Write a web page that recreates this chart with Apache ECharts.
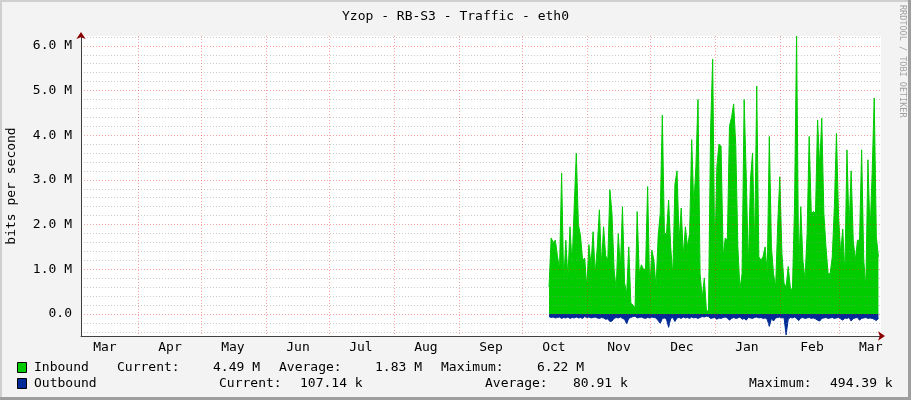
<!DOCTYPE html>
<html><head><meta charset="utf-8">
<script src="https://cdn.jsdelivr.net/npm/echarts@6/dist/echarts.min.js"></script>
<style>html,body{margin:0;padding:0;background:#F3F3F3}#c{width:911px;height:400px}</style>
</head><body><div id="c"></div>
<script>
// ---- texts ----
const chartTitle = 'Yzop - RB-S3 - Traffic - eth0';
const yAxisTitle = 'bits per second';
const creditText = 'RRDTOOL / TOBI OETIKER';
const monthNames = ['Jan','Feb','Mar','Apr','May','Jun','Jul','Aug','Sep','Oct','Nov','Dec'];

// ---- time axis (UTC) ----
const axisStart = '2009-03-04T14:00:00Z';
const axisEnd = '2010-03-20T21:30:00Z';
const dataStart = '2009-10-13T16:00:00Z';   // first daily sample
const monthStarts = ['2009-04-01','2009-05-01','2009-06-01','2009-07-01','2009-08-01','2009-09-01',
  '2009-10-01','2009-11-01','2009-12-01','2010-01-01','2010-02-01','2010-03-01'];
const monthLabelDates = ['2009-03-16','2009-04-16','2009-05-16','2009-06-16','2009-07-16','2009-08-16',
  '2009-09-16','2009-10-16','2009-11-16','2009-12-16','2010-01-16','2010-02-16','2010-03-16'];

// ---- value axis (Mbit/s) ----
const yMin = -0.49439;
const yMax = 6.22;
const yMajorTicks = [0,1,2,3,4,5,6];
const yMinorTicks = [-0.4,-0.2,0.2,0.4,0.6,0.8,1.2,1.4,1.6,1.8,2.2,2.4,2.6,2.8,3.2,3.4,3.6,3.8,
  4.2,4.4,4.6,4.8,5.2,5.4,5.6,5.8,6.2];

// ---- daily samples, Mbit/s ----
const inbound = [
  0.6,1.7,1.6,1.65,1.3,1.0,3.15,0.7,1.65,0.8,
  1.95,1.1,2.4,3.6,2.0,1.75,1.2,1.25,0.6,1.55,
  1.1,1.84,0.9,1.5,2.33,1.1,1.95,1.3,1.2,2.78,
  2.25,1.0,0.55,1.8,1.0,2.4,0.7,0.45,1.5,0.24,
  0.2,0.13,2.29,0.9,1.1,1.0,1.0,2.85,0.5,1.43,
  1.2,0.6,1.73,2.25,4.45,1.8,1.8,2.55,1.5,0.84,
  2.9,3.2,1.65,2.37,1.3,1.95,1.5,1.8,3.9,2.4,
  3.3,4.8,0.9,0.35,0.8,0.1,0.03,4.13,5.7,1.2,
  3.3,3.8,3.75,1.28,1.7,1.65,4.2,4.4,4.7,3.78,
  1.5,0.55,0.9,4.8,3.07,1.05,3.0,3.6,1.5,5.1,
  1.28,1.2,1.28,1.5,0.9,3.97,1.5,0.9,0.6,2.0,
  3.07,1.36,0.69,0.6,1.06,0.6,0.5,2.4,6.22,0.9,
  2.4,1.2,0.75,1.8,3.97,2.25,2.29,2.25,4.34,3.3,
  4.38,2.25,1.5,0.9,0.9,1.28,2.4,4.04,2.18,1.36,
  1.9,0.9,3.67,1.9,3.2,1.65,1.2,1.65,1.65,3.67,
  1.2,0.6,3.45,1.8,3.15,4.83,1.73,1.28
];
const outbound = [
  0.06,0.08,0.07,0.09,0.08,0.07,0.1,0.08,0.09,0.07,
  0.1,0.08,0.09,0.07,0.09,0.08,0.1,0.06,0.08,0.07,
  0.09,0.08,0.07,0.09,0.1,0.08,0.09,0.12,0.11,0.17,
  0.16,0.1,0.08,0.09,0.07,0.1,0.12,0.22,0.1,0.08,
  0.06,0.05,0.09,0.08,0.07,0.09,0.1,0.08,0.09,0.07,
  0.08,0.09,0.15,0.21,0.1,0.09,0.12,0.3,0.1,0.08,
  0.17,0.09,0.08,0.1,0.07,0.09,0.08,0.1,0.07,0.09,
  0.08,0.1,0.08,0.06,0.07,0.05,0.06,0.1,0.09,0.08,
  0.12,0.09,0.1,0.08,0.07,0.09,0.14,0.1,0.08,0.1,
  0.09,0.07,0.12,0.1,0.14,0.08,0.09,0.1,0.08,0.07,
  0.09,0.08,0.1,0.09,0.12,0.28,0.1,0.16,0.09,0.08,
  0.07,0.09,0.08,0.47,0.12,0.08,0.09,0.07,0.1,0.15,
  0.09,0.08,0.1,0.09,0.08,0.1,0.09,0.11,0.14,0.16,
  0.1,0.09,0.08,0.1,0.09,0.08,0.1,0.09,0.08,0.11,
  0.14,0.09,0.1,0.08,0.16,0.1,0.09,0.08,0.14,0.1,
  0.09,0.08,0.1,0.09,0.1,0.12,0.15,0.1
];

// ---- legend texts ----
const seriesNames = ['Inbound','Outbound'];
const seriesColors = ['#00CC00','#002A97'];
const legendRow1 = [['Inbound',34],['Current:',117],['4.49 M',213],['Average:',279],['1.83 M',375],['Maximum:',441],['6.22 M',537]];
const legendRow2 = [['Outbound',34],['Current:',219],['107.14 k',300],['Average:',485],['80.91 k',573],['Maximum:',749],['494.39 k',830]];

// ---- build ----
const DAY = 86400000;
const t0 = Date.parse(dataStart);
const xMin = Date.parse(axisStart), xMax = Date.parse(axisEnd);
const tickTs = monthStarts.map(d => Date.parse(d + 'T00:00:00Z'));
const labelTs = monthLabelDates.map(d => Date.parse(d + 'T00:00:00Z'));
const inData = inbound.map((v, i) => [t0 + i * DAY, v]);
const outData = outbound.map((v, i) => [t0 + i * DAY, -v]);

const FONT = 'DejaVu Sans Mono';
const minorGrid = 'rgba(143,143,143,0.45)';
const majorGrid = 'rgba(240,0,0,0.35)';
const axisColor = '#404040';
const arrowColor = '#8B0000';

const chart = echarts.init(document.getElementById('c'), null, {renderer: 'canvas'});

const legendGraphics = [];
[legendRow1, legendRow2].forEach((row, r) => {
  const y = r === 0 ? 368 : 384;
  legendGraphics.push({type: 'rect', shape: {x: 17.5, y: y - 5.5, width: 9, height: 10},
    style: {fill: seriesColors[r], stroke: '#000', lineWidth: 1}});
  row.forEach(([txt, x]) => legendGraphics.push({type: 'text', x: x, y: y,
    style: {text: txt, font: '13px "' + FONT + '"', fill: '#000', textVerticalAlign: 'middle'}}));
});

chart.setOption({
  animation: false,
  backgroundColor: '#F3F3F3',
  title: {text: chartTitle, left: 'center', top: 5,
    textStyle: {fontFamily: FONT, fontSize: 13, fontWeight: 'normal', color: '#000'}},
  grid: {left: 81, right: 30, top: 36, bottom: 64, show: true, backgroundColor: '#FFFFFF', borderWidth: 0},
  xAxis: [
    {type: 'value', min: xMin, max: xMax, position: 'bottom', z: 5,
     axisLine: {show: true, onZero: false, lineStyle: {color: axisColor, width: 1}},
     axisTick: {show: false, customValues: tickTs},
     splitLine: {show: true, lineStyle: {color: majorGrid, width: 1, type: [1, 2]}},
     axisLabel: {show: true, customValues: labelTs, margin: 5, color: '#000', fontFamily: FONT, fontSize: 13,
       formatter: v => monthNames[new Date(v).getUTCMonth()]}},
    {type: 'value', min: xMin, max: xMax, position: 'bottom', z: 6,
     axisLine: {show: true, onZero: false, symbol: ['none', 'arrow'], symbolSize: [7, 7], symbolOffset: [0, 4],
       lineStyle: {color: arrowColor, width: 0}},
     axisTick: {show: false}, splitLine: {show: false}, axisLabel: {show: false}}
  ],
  yAxis: [
    {type: 'value', min: yMin, max: yMax, position: 'left', z: 4,
     axisLine: {show: false}, axisTick: {show: false, customValues: yMinorTicks},
     axisLabel: {show: false},
     splitLine: {show: true, lineStyle: {color: minorGrid, width: 1, type: [1, 2]}}},
    {type: 'value', min: yMin, max: yMax, position: 'left', z: 5,
     axisLine: {show: true, onZero: false, lineStyle: {color: axisColor, width: 1}},
     axisTick: {show: false, customValues: yMajorTicks},
     axisLabel: {show: true, customValues: yMajorTicks, margin: 9, color: '#000', fontFamily: FONT, fontSize: 13,
       formatter: v => Math.abs(v) < 1e-9 ? '0.0' : v.toFixed(1) + ' M'},
     splitLine: {show: true, lineStyle: {color: majorGrid, width: 1, type: [1, 2]}}},
    {type: 'value', min: yMin, max: yMax, position: 'left', z: 6,
     axisLine: {show: true, onZero: false, symbol: ['none', 'arrow'], symbolSize: [7, 7], symbolOffset: [0, 4],
       lineStyle: {color: arrowColor, width: 0}},
     axisTick: {show: false}, splitLine: {show: false}, axisLabel: {show: false}}
  ],
  series: [
    {name: seriesNames[0], type: 'line', xAxisIndex: 0, yAxisIndex: 1, data: inData, z: 2,
     showSymbol: false, symbol: 'none', lineStyle: {color: seriesColors[0], width: 1},
     itemStyle: {color: seriesColors[0]}, areaStyle: {color: seriesColors[0], opacity: 1}},
    {name: seriesNames[1], type: 'line', xAxisIndex: 0, yAxisIndex: 1, data: outData, z: 3,
     showSymbol: false, symbol: 'none', lineStyle: {color: seriesColors[1], width: 1},
     itemStyle: {color: seriesColors[1]}, areaStyle: {color: seriesColors[1], opacity: 1}}
  ],
  graphic: [
    {type: 'text', x: 12, y: 186, rotation: Math.PI / 2,
     style: {text: yAxisTitle, font: '13px "' + FONT + '"', fill: '#000', textAlign: 'center', textVerticalAlign: 'middle'}},
    {type: 'text', x: 902, y: 5, rotation: -Math.PI / 2,
     style: {text: creditText, font: '8.5px "' + FONT + '"', fill: '#A0A0A0', textAlign: 'left', textVerticalAlign: 'middle'}},
    {type: 'rect', shape: {x: 0, y: 0, width: 911, height: 2}, style: {fill: '#CFCFCF'}},
    {type: 'rect', shape: {x: 0, y: 0, width: 2, height: 400}, style: {fill: '#CFCFCF'}},
    {type: 'rect', shape: {x: 0, y: 397, width: 911, height: 3}, style: {fill: '#9E9E9E'}},
    {type: 'rect', shape: {x: 908, y: 0, width: 3, height: 400}, style: {fill: '#9E9E9E'}}
  ].concat(legendGraphics)
});
</script></body></html>
